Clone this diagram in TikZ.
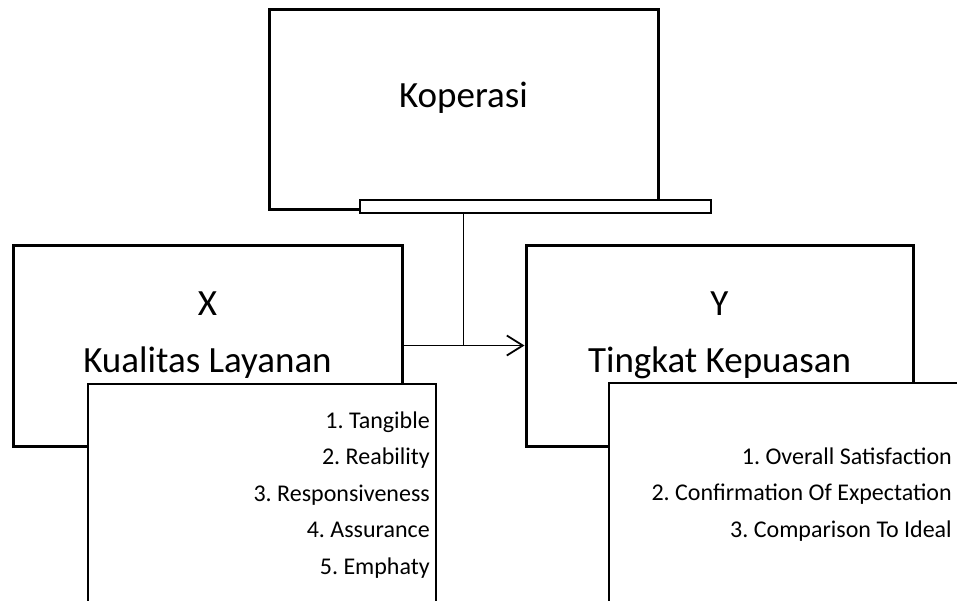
\documentclass[tikz,border=0pt]{standalone}
\usepackage{fontspec}
\setmainfont{Carlito}
\usetikzlibrary{arrows.meta,positioning}
\frenchspacing

\begin{document}
\begin{tikzpicture}[
        x=1pt, y=-1pt,
        bigbox/.style={draw, line width=3pt, inner sep=0pt, minimum height=201pt},
        listbox/.style={draw, fill=white, line width=1.6pt, inner sep=0pt, anchor=north west, minimum height=240pt},
        bigtext/.style={font=\fontsize{37}{44}\selectfont, inner sep=0pt, anchor=base},
        listtext/.style={font=\fontsize{24}{36.5}\selectfont, align=right, inner sep=0pt, anchor=base east},
        link/.style={line width=1.8pt}
    ]
    \useasboundingbox (0,0) rectangle (957,600);
    \clip (0,0) rectangle (957,600);

    % Nodes
    \node[bigbox, minimum width=389pt, minimum height=200pt] (kop) at (463.5,109) {};
    \node[draw, fill=white, line width=1.5pt, inner sep=0pt, minimum width=351pt, minimum height=13pt] (bar) at (535.5,206.5) {};
    \node[bigtext] (koptext) at (463.5,107) {Koperasi};

    \node[bigbox, minimum width=389pt] (xbox) at (207.5,345.5) {};
    \node[bigtext] (xname) at (207.5,315) {X};
    \node[bigtext] (xtitle) at (207.5,372) {Kualitas Layanan};

    \node[bigbox, minimum width=387pt] (ybox) at (719.5,345.5) {};
    \node[bigtext] (yname) at (719.5,315) {Y};
    \node[bigtext] (ytitle) at (719.5,372) {Tingkat Kepuasan};

    % Edges
    \draw[link] (kop.south |- bar.south) -- (kop.south |- xbox.east);
    \draw[link, -{Straight Barb[length=16pt, width=20pt]}] (xbox.east) -- (ybox.west);

    % Indicators (base east = baseline of the last line)
    \node[listbox, minimum width=348pt] (xlist) at (87,383) {};
    \node[listtext] (xitems) at (430,574) {1. Tangible \\ 2. Reability \\ 3. Responsiveness \\ 4. Assurance \\ 5. Emphaty};

    \node[listbox, minimum width=370pt] (ylist) at (608,382) {};
    \node[listtext] (yitems) at (952,537) {1. Overall Satisfaction \\ 2. Confirmation Of Expectation \\ 3. Comparison To Ideal};

\end{tikzpicture}
\end{document}
